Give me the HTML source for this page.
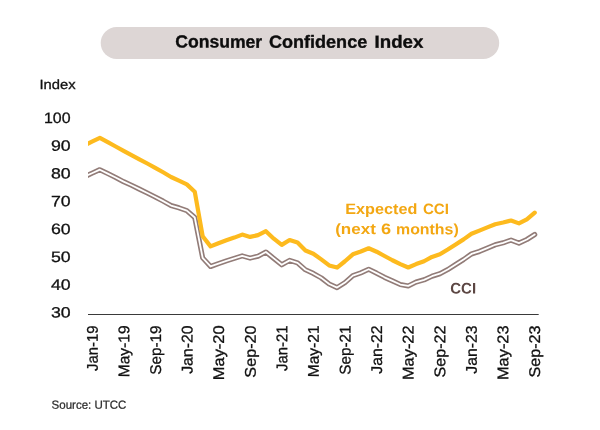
<!DOCTYPE html>
<html lang="en">
<head>
<meta charset="utf-8">
<title>Consumer Confidence Index</title>
<style>
html,body{margin:0;padding:0;background:#fff;}
body{width:600px;height:430px;overflow:hidden;font-family:"Liberation Sans",sans-serif;}
svg{display:block;}
text{font-family:"Liberation Sans",sans-serif;text-rendering:geometricPrecision;}
.title{font-weight:bold;font-size:17.6px;fill:#0d0d0d;stroke:#0d0d0d;stroke-width:0.35px;stroke-linejoin:round;}
.yl text{font-size:15.0px;fill:#111;stroke:#111;stroke-width:0.3px;}
.xl text{font-size:15.5px;fill:#111;stroke:#111;stroke-width:0.3px;}
.idx{font-size:13.4px;fill:#111;stroke:#111;stroke-width:0.3px;}
.src{font-size:11.8px;fill:#2b2b2b;stroke:#2b2b2b;stroke-width:0.25px;}
.lab{font-weight:bold;font-size:15px;}
</style>
</head>
<body>
<svg width="600" height="430" viewBox="0 0 600 430">
<defs><clipPath id="plot"><rect x="88" y="100" width="460" height="214"/></clipPath></defs>
<rect x="0" y="0" width="600" height="430" fill="#ffffff"/>
<rect x="100.7" y="27" width="398.5" height="32" rx="16" ry="16" fill="#ddd6d5"/>
<text class="title" transform="translate(175.20,47.60) rotate(0.03)"><tspan x="0.00" textLength="87.00" lengthAdjust="spacingAndGlyphs">Consumer</tspan> <tspan x="93.80" textLength="98.20" lengthAdjust="spacingAndGlyphs">Confidence</tspan> <tspan x="199.40" textLength="48.80" lengthAdjust="spacingAndGlyphs">Index</tspan></text>
<text class="idx" transform="translate(39.50,89.05) rotate(0.03)"><tspan x="0.00" textLength="36.10" lengthAdjust="spacingAndGlyphs">Index</tspan></text>
<g class="yl"><text transform="translate(50.90,317.55) rotate(0.03)"><tspan x="0.00" textLength="19.70" lengthAdjust="spacingAndGlyphs">30</tspan></text><text transform="translate(50.90,289.74) rotate(0.03)"><tspan x="0.00" textLength="19.70" lengthAdjust="spacingAndGlyphs">40</tspan></text><text transform="translate(50.90,261.93) rotate(0.03)"><tspan x="0.00" textLength="19.70" lengthAdjust="spacingAndGlyphs">50</tspan></text><text transform="translate(50.90,234.12) rotate(0.03)"><tspan x="0.00" textLength="19.70" lengthAdjust="spacingAndGlyphs">60</tspan></text><text transform="translate(50.90,206.31) rotate(0.03)"><tspan x="0.00" textLength="19.70" lengthAdjust="spacingAndGlyphs">70</tspan></text><text transform="translate(50.90,178.50) rotate(0.03)"><tspan x="0.00" textLength="19.70" lengthAdjust="spacingAndGlyphs">80</tspan></text><text transform="translate(50.90,150.69) rotate(0.03)"><tspan x="0.00" textLength="19.70" lengthAdjust="spacingAndGlyphs">90</tspan></text><text transform="translate(44.00,122.88) rotate(0.03)"><tspan x="0.00" textLength="26.60" lengthAdjust="spacingAndGlyphs">100</tspan></text></g>
<line x1="88" y1="314.5" x2="538.7" y2="314.5" stroke="#3a3a3a" stroke-width="1"/>
<g class="xl"><text transform="translate(97.75,370.95) rotate(-89.97)"><tspan x="0.00" textLength="45.50" lengthAdjust="spacingAndGlyphs">Jan-19</tspan></text><text transform="translate(129.33,377.25) rotate(-89.97)"><tspan x="0.00" textLength="51.80" lengthAdjust="spacingAndGlyphs">May-19</tspan></text><text transform="translate(160.91,374.75) rotate(-89.97)"><tspan x="0.00" textLength="49.30" lengthAdjust="spacingAndGlyphs">Sep-19</tspan></text><text transform="translate(192.50,373.85) rotate(-89.97)"><tspan x="0.00" textLength="48.40" lengthAdjust="spacingAndGlyphs">Jan-20</tspan></text><text transform="translate(224.08,380.15) rotate(-89.97)"><tspan x="0.00" textLength="54.70" lengthAdjust="spacingAndGlyphs">May-20</tspan></text><text transform="translate(255.66,377.65) rotate(-89.97)"><tspan x="0.00" textLength="52.20" lengthAdjust="spacingAndGlyphs">Sep-20</tspan></text><text transform="translate(287.24,370.95) rotate(-89.97)"><tspan x="0.00" textLength="45.50" lengthAdjust="spacingAndGlyphs">Jan-21</tspan></text><text transform="translate(318.82,377.25) rotate(-89.97)"><tspan x="0.00" textLength="51.80" lengthAdjust="spacingAndGlyphs">May-21</tspan></text><text transform="translate(350.41,374.75) rotate(-89.97)"><tspan x="0.00" textLength="49.30" lengthAdjust="spacingAndGlyphs">Sep-21</tspan></text><text transform="translate(381.99,373.75) rotate(-89.97)"><tspan x="0.00" textLength="48.30" lengthAdjust="spacingAndGlyphs">Jan-22</tspan></text><text transform="translate(413.57,380.05) rotate(-89.97)"><tspan x="0.00" textLength="54.60" lengthAdjust="spacingAndGlyphs">May-22</tspan></text><text transform="translate(445.15,377.55) rotate(-89.97)"><tspan x="0.00" textLength="52.10" lengthAdjust="spacingAndGlyphs">Sep-22</tspan></text><text transform="translate(476.73,373.75) rotate(-89.97)"><tspan x="0.00" textLength="48.30" lengthAdjust="spacingAndGlyphs">Jan-23</tspan></text><text transform="translate(508.32,380.05) rotate(-89.97)"><tspan x="0.00" textLength="54.60" lengthAdjust="spacingAndGlyphs">May-23</tspan></text><text transform="translate(539.90,377.55) rotate(-89.97)"><tspan x="0.00" textLength="52.10" lengthAdjust="spacingAndGlyphs">Sep-23</tspan></text></g>
<g clip-path="url(#plot)" fill="none" stroke-linejoin="round" stroke-linecap="round">
<path d="M84.04,176.92 L91.95,173.30 L99.86,169.69 L107.76,173.58 L115.67,177.47 L123.58,181.65 L131.49,185.26 L139.39,189.16 L147.30,193.05 L155.21,196.94 L163.11,201.11 L171.02,205.56 L178.93,207.79 L186.83,210.57 L194.74,217.52 L202.65,257.85 L210.56,266.47 L218.46,263.69 L226.37,260.90 L234.28,258.40 L242.18,255.90 L250.09,258.12 L258.00,256.18 L265.90,252.01 L273.81,258.40 L281.72,264.80 L289.62,260.35 L297.53,262.85 L305.44,269.80 L313.35,273.42 L321.25,277.87 L329.16,283.99 L337.07,287.60 L344.97,282.60 L352.88,275.64 L360.79,272.86 L368.69,269.25 L376.60,273.14 L384.51,277.31 L392.42,280.93 L400.32,284.54 L408.23,285.93 L416.14,282.04 L424.04,279.82 L431.95,276.20 L439.86,273.70 L447.76,269.53 L455.67,264.52 L463.58,259.51 L471.49,253.95 L479.39,251.45 L487.30,248.11 L495.21,244.78 L503.11,242.83 L511.02,240.05 L518.93,243.11 L526.84,239.49 L534.74,234.49" stroke="#927c78" stroke-width="5.1"/>
<path d="M84.04,176.92 L91.95,173.30 L99.86,169.69 L107.76,173.58 L115.67,177.47 L123.58,181.65 L131.49,185.26 L139.39,189.16 L147.30,193.05 L155.21,196.94 L163.11,201.11 L171.02,205.56 L178.93,207.79 L186.83,210.57 L194.74,217.52 L202.65,257.85 L210.56,266.47 L218.46,263.69 L226.37,260.90 L234.28,258.40 L242.18,255.90 L250.09,258.12 L258.00,256.18 L265.90,252.01 L273.81,258.40 L281.72,264.80 L289.62,260.35 L297.53,262.85 L305.44,269.80 L313.35,273.42 L321.25,277.87 L329.16,283.99 L337.07,287.60 L344.97,282.60 L352.88,275.64 L360.79,272.86 L368.69,269.25 L376.60,273.14 L384.51,277.31 L392.42,280.93 L400.32,284.54 L408.23,285.93 L416.14,282.04 L424.04,279.82 L431.95,276.20 L439.86,273.70 L447.76,269.53 L455.67,264.52 L463.58,259.51 L471.49,253.95 L479.39,251.45 L487.30,248.11 L495.21,244.78 L503.11,242.83 L511.02,240.05 L518.93,243.11 L526.84,239.49 L534.74,234.49" stroke="#ffffff" stroke-width="1.8"/>
<path d="M84.04,145.50 L91.95,141.60 L99.86,137.85 L107.76,142.15 L115.67,146.50 L123.58,150.85 L131.49,155.10 L139.39,159.30 L147.30,163.50 L155.21,167.80 L163.11,172.30 L171.02,177.00 L178.93,180.70 L186.83,184.40 L194.74,191.70 L202.65,236.20 L210.56,246.40 L218.46,243.20 L226.37,240.30 L234.28,237.60 L242.18,234.60 L250.09,236.90 L258.00,235.10 L265.90,231.20 L273.81,238.70 L281.72,244.90 L289.62,240.00 L297.53,242.50 L305.44,250.50 L313.35,253.70 L321.25,259.40 L329.16,265.40 L337.07,267.60 L344.97,261.25 L352.88,254.30 L360.79,251.50 L368.69,248.30 L376.60,251.70 L384.51,256.00 L392.42,260.25 L400.32,264.10 L408.23,267.50 L416.14,264.10 L424.04,261.25 L431.95,256.90 L439.86,254.30 L447.76,249.50 L455.67,244.40 L463.58,239.40 L471.49,233.80 L479.39,230.60 L487.30,227.40 L495.21,224.20 L503.11,222.50 L511.02,220.50 L518.93,223.40 L526.84,219.40 L534.74,212.70" stroke="#fdba1e" stroke-width="4.2"/>
</g>
<text class="lab" transform="translate(345.30,213.90) rotate(0.03)" fill="#f3a712"><tspan x="0.00" textLength="72.00" lengthAdjust="spacingAndGlyphs">Expected</tspan> <tspan x="77.60" textLength="26.00" lengthAdjust="spacingAndGlyphs">CCI</tspan></text>
<text class="lab" transform="translate(335.20,234.10) rotate(0.03)" fill="#f3a712"><tspan x="0.00" textLength="40.60" lengthAdjust="spacingAndGlyphs">(next</tspan> <tspan x="45.70" textLength="10.10" lengthAdjust="spacingAndGlyphs">6</tspan> <tspan x="60.80" textLength="62.70" lengthAdjust="spacingAndGlyphs">months)</tspan></text>
<text class="lab" transform="translate(450.30,293.40) rotate(0.03)" fill="#5c4643" style="font-size:15.4px"><tspan x="0.00" textLength="25.80" lengthAdjust="spacingAndGlyphs">CCI</tspan></text>
<text class="src" transform="translate(51.60,408.80) rotate(0.03)"><tspan x="0.00" textLength="74.80" lengthAdjust="spacingAndGlyphs">Source: UTCC</tspan></text>
</svg>
</body>
</html>
